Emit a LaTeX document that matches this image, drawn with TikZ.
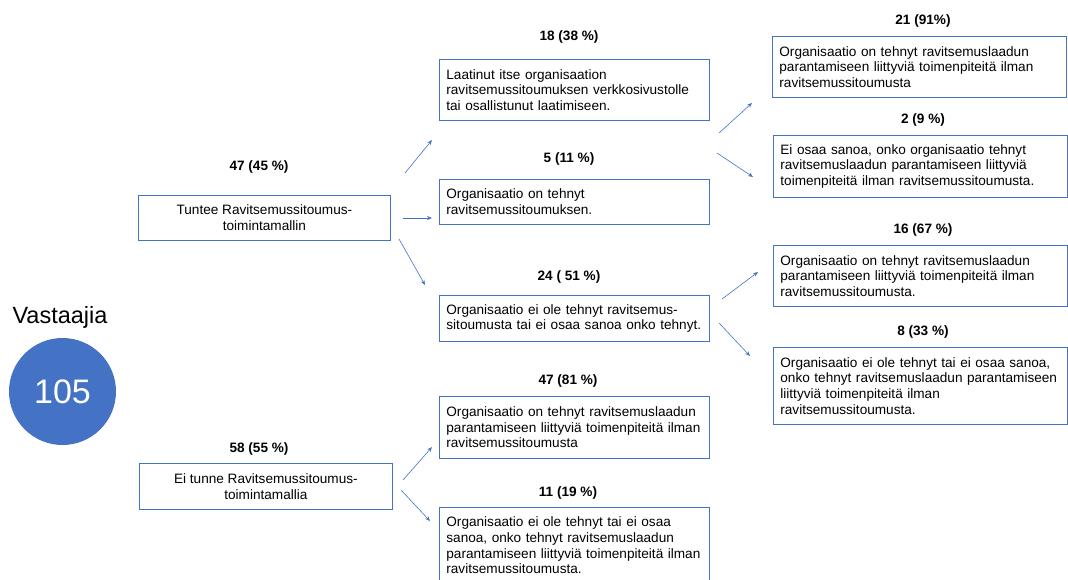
\documentclass[tikz,border=0pt]{standalone}
\usepackage{fontspec}
\setmainfont{Liberation Sans}
\usetikzlibrary{arrows.meta}
\definecolor{ofblue}{HTML}{4472C4}

\begin{document}
\begin{tikzpicture}[x=1pt, y=-1pt, line width=0.8pt,
  box/.style={color=ofblue, text=black, draw, fill=white, inner xsep=7pt, inner ysep=0pt,
    anchor=north west, font=\fontsize{13.6}{15.6}\selectfont},
  lbox/.style={box, align=left},
  cbox/.style={box, align=center},
  num/.style={font=\fontsize{13.6}{15.6}\selectfont\bfseries},
  arr/.style={draw=ofblue, line width=0.6pt, -{Stealth[length=5pt, width=4pt]}}]

  \useasboundingbox (0,0) rectangle (1068,579);

  % vastaajat
  \node[anchor=base, font=\fontsize{23.5}{26}\selectfont] (vastaajia) at (60,323) {Vastaajia};
  \fill[ofblue] (62.5,391.5) circle (53.5);
  \node[anchor=base, text=white, font=\fontsize{34}{38}\selectfont] (n105) at (62.5,403) {105};

  % taso 1
  \node[num] (l47) at (259,167) {47 (45 \%)};
  \node[cbox, minimum width=252pt, minimum height=45pt] (tuntee) at (138,195)
    {Tuntee Ravitsemussitoumus-\\toimintamallin};
  \node[num] (l58) at (259,449) {58 (55 \%)};
  \node[cbox, minimum width=253pt, minimum height=46pt] (eitunne) at (139,463)
    {Ei tunne Ravitsemussitoumus-\\toimintamallia};

  % taso 2
  \node[num] (l18) at (569,37) {18 (38 \%)};
  \node[lbox, text width=256pt, minimum height=61pt] (laatinut) at (439,59)
    {Laatinut itse organisaation\\ravitsemussitoumuksen verkkosivustolle\\tai osallistunut laatimiseen.};
  \node[num] (l5) at (569,159) {5 (11 \%)};
  \node[lbox, text width=256pt, minimum height=45pt] (tehnyt) at (439,179)
    {Organisaatio on tehnyt\\ravitsemussitoumuksen.};
  \node[num] (l24) at (569,277) {24 ( 51 \%)};
  \node[lbox, text width=256pt, minimum height=46pt] (eiole) at (439,295)
    {Organisaatio ei ole tehnyt ravitsemus-\\sitoumusta tai ei osaa sanoa onko tehnyt.};
  \node[num] (l47b) at (568,381) {47 (81 \%)};
  \node[lbox, text width=256pt, minimum height=62pt] (on81) at (439,396)
    {Organisaatio on tehnyt ravitsemuslaadun\\parantamiseen liittyviä toimenpiteitä ilman\\ravitsemussitoumusta};
  \node[num] (l11) at (568,493) {11 (19 \%)};
  \node[lbox, text width=256pt, minimum height=76pt] (ei19) at (439,507)
    {Organisaatio ei ole tehnyt tai ei osaa\\sanoa, onko tehnyt ravitsemuslaadun\\parantamiseen liittyviä toimenpiteitä ilman\\ravitsemussitoumusta.};

  % taso 3
  \node[num] (l21) at (923,21) {21 (91\%)};
  \node[lbox, text width=280pt, minimum height=61pt] (r21) at (772,36)
    {Organisaatio on tehnyt ravitsemuslaadun\\parantamiseen liittyviä toimenpiteitä ilman\\ravitsemussitoumusta};
  \node[num] (l2) at (923,120) {2 (9 \%)};
  \node[lbox, text width=280pt, minimum height=62pt] (r9) at (773,135)
    {Ei osaa sanoa, onko organisaatio tehnyt\\ravitsemuslaadun parantamiseen liittyviä\\toimenpiteitä ilman ravitsemussitoumusta.};
  \node[num] (l16) at (923,230) {16 (67 \%)};
  \node[lbox, text width=280pt, minimum height=61pt] (r67) at (773,245)
    {Organisaatio on tehnyt ravitsemuslaadun\\parantamiseen liittyviä toimenpiteitä ilman\\ravitsemussitoumusta.};
  \node[num] (l8) at (923,332) {8 (33 \%)};
  \node[lbox, text width=280pt, minimum height=77pt] (r33) at (773,347)
    {Organisaatio ei ole tehnyt tai ei osaa sanoa,\\onko tehnyt ravitsemuslaadun parantamiseen\\liittyviä toimenpiteitä ilman\\ravitsemussitoumusta.};

  % nuolten päät
  \coordinate (a1s) at (405,173); \coordinate (a1e) at (432,140);
  \coordinate (a2s) at (403,218); \coordinate (a2e) at (432,218);
  \coordinate (a3s) at (399,239); \coordinate (a3e) at (425,285);
  \coordinate (a4s) at (403,480); \coordinate (a4e) at (432,447);
  \coordinate (a5s) at (401,490); \coordinate (a5e) at (430,521);
  \coordinate (a6s) at (719,133); \coordinate (a6e) at (752,103);
  \coordinate (a7s) at (717,153); \coordinate (a7e) at (753,177);
  \coordinate (a8s) at (722,299); \coordinate (a8e) at (758,272);
  \coordinate (a9s) at (719,323); \coordinate (a9e) at (750,356);

  \foreach \i in {1,...,9}
    \draw[arr] (a\i s) -- (a\i e);
\end{tikzpicture}
\end{document}
